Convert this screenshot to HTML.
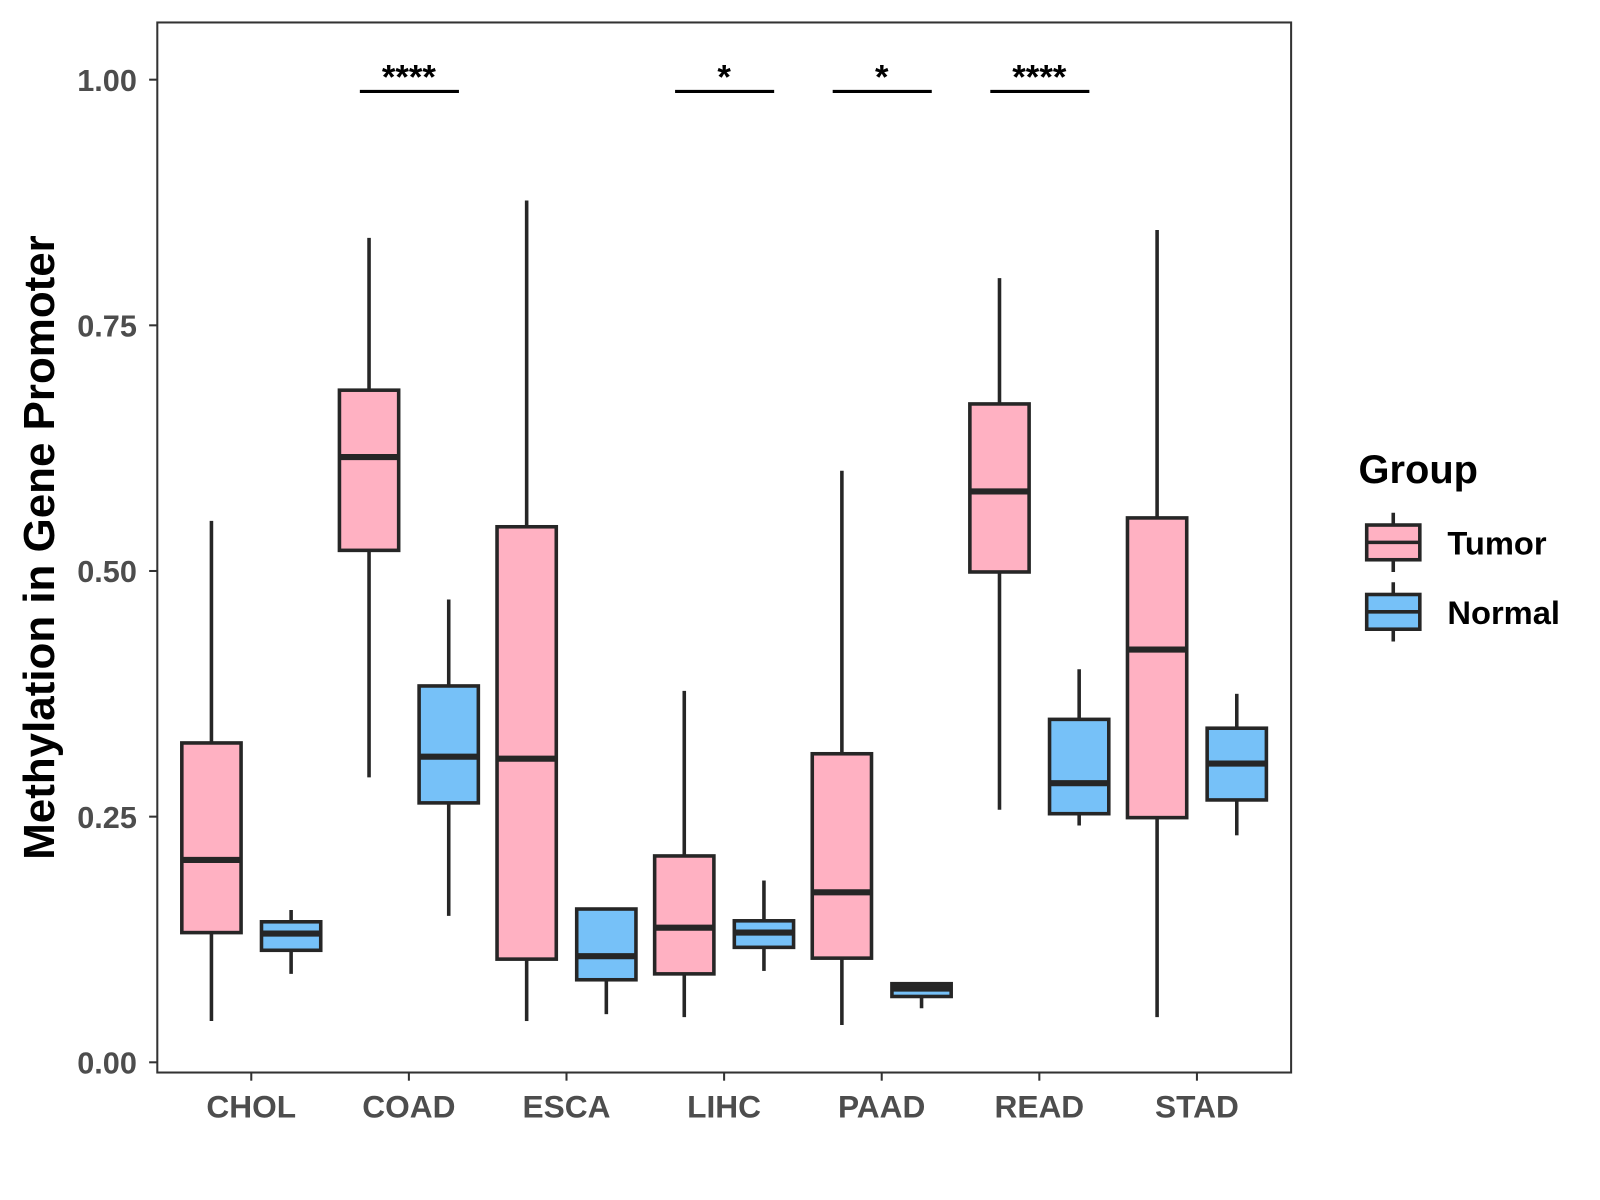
<!DOCTYPE html>
<html><head><meta charset="utf-8"><style>
body{margin:0;background:#fff}
svg{display:block}
svg text{font-family:"Liberation Sans",Arial,sans-serif;font-weight:bold}
</style></head><body>
<svg id="chart" width="1600" height="1200" viewBox="0 0 1566.4 1174.8" xmlns="http://www.w3.org/2000/svg">
<rect x="0" y="0" width="1600" height="1200" fill="#fff"/>
<g id="plot"></g>
<text transform="translate(53,536) rotate(-90)" text-anchor="middle" font-size="43" fill="#000">Methylation in Gene Promoter</text>
<g>
<text x="1330" y="473" font-size="39" fill="#000">Group</text>
<g>
<line x1="1364" y1="502" x2="1364" y2="560" stroke="#262626" stroke-width="3.5"/>
<rect x="1338" y="514" width="52" height="34" fill="#FFB1C2" stroke="#262626" stroke-width="3.5"/>
<line x1="1338" y1="531" x2="1390" y2="531" stroke="#262626" stroke-width="3.5"/>
<text x="1417" y="543" font-size="32" fill="#000">Tumor</text>
</g>
<g>
<line x1="1364" y1="570" x2="1364" y2="628" stroke="#262626" stroke-width="3.5"/>
<rect x="1338" y="582" width="52" height="34" fill="#76C1F8" stroke="#262626" stroke-width="3.5"/>
<line x1="1338" y1="599" x2="1390" y2="599" stroke="#262626" stroke-width="3.5"/>
<text x="1417" y="611" font-size="32" fill="#000">Normal</text>
</g>
</g>
</svg>
<script>
const categories=["CHOL","COAD","ESCA","LIHC","PAAD","READ","STAD"];
// [low, q1, median, q3, high]
const tumorStats=[[0.042,0.132,0.206,0.325,0.551],[0.290,0.521,0.616,0.684,0.839],[0.042,0.105,0.309,0.545,0.877],[0.046,0.090,0.137,0.210,0.378],[0.038,0.106,0.173,0.314,0.602],[0.257,0.499,0.581,0.670,0.798],[0.046,0.249,0.420,0.554,0.847]];
const normalStats=[[0.090,0.114,0.131,0.143,0.155],[0.149,0.264,0.311,0.383,0.471],[0.049,0.084,0.108,0.156,0.156],[0.093,0.117,0.132,0.144,0.185],[0.055,0.067,0.075,0.080,0.080],[0.241,0.253,0.284,0.349,0.400],[0.231,0.267,0.304,0.340,0.375]];
const yTicks=[0,0.25,0.5,0.75,1.0];
const yTickLabels=["0.00","0.25","0.50","0.75","1.00"];
const sigCategories=["COAD","LIHC","PAAD","READ"];
const sigLabels=["****","*","*","****"];
const sigLevel=0.988;

const NS="http://www.w3.org/2000/svg";
const L=154,R=1264,T=22,B=1050;
const y=v=>1040-v*962;
const x=i=>246+i*154.3;
const g=document.getElementById('plot');
function el(t,a,p){const e=document.createElementNS(NS,t);for(const k in a)e.setAttribute(k,a[k]);(p||g).appendChild(e);return e;}
const stroke="#262626",sw=3.5;
function box(cx,s,fill,name){
  const grp=el('g',{});
  
  
  el('line',{x1:cx,x2:cx,y1:y(s[4]),y2:y(s[3]),stroke:stroke,'stroke-width':sw},grp);
  el('line',{x1:cx,x2:cx,y1:y(s[1]),y2:y(s[0]),stroke:stroke,'stroke-width':sw},grp);
  el('rect',{x:cx-29,y:y(s[3]),width:58,height:Math.max(y(s[1])-y(s[3]),0.5),fill:fill,stroke:stroke,'stroke-width':sw},grp);
  el('line',{x1:cx-29,x2:cx+29,y1:y(s[2]),y2:y(s[2]),stroke:stroke,'stroke-width':6},grp);
}
categories.forEach((c,i)=>{
  box(x(i)-39,tumorStats[i],"#FFB1C2","box-tumor-"+c.toLowerCase());
  box(x(i)+39,normalStats[i],"#76C1F8","box-normal-"+c.toLowerCase());
  el('line',{x1:x(i),x2:x(i),y1:B,y2:B+8,stroke:"#333",'stroke-width':2});
  const t=el('text',{x:x(i),y:1094,'text-anchor':'middle','font-size':31,fill:'#4d4d4d'});
  t.textContent=c;
  
  
});
yTicks.forEach((v,i)=>{
  el('line',{x1:L-8,x2:L,y1:y(v),y2:y(v),stroke:"#333",'stroke-width':2});
  const t=el('text',{x:134,y:y(v)+11,'text-anchor':'end','font-size':30,fill:'#4d4d4d'});
  t.textContent=yTickLabels[i];
  
  
});
sigCategories.forEach((c,j)=>{
  const i=categories.indexOf(c);
  el('line',{x1:x(i)-48,x2:x(i)+49,y1:y(sigLevel),y2:y(sigLevel),stroke:"#000",'stroke-width':3});
  const t=el('text',{x:x(i),y:y(sigLevel)-3,'text-anchor':'middle','font-size':34,fill:'#000'});
  t.textContent=sigLabels[j];
  
  
});
const fr=el('rect',{x:L,y:T,width:R-L,height:B-T,fill:'none',stroke:'#333','stroke-width':2});


</script>
</body></html>
